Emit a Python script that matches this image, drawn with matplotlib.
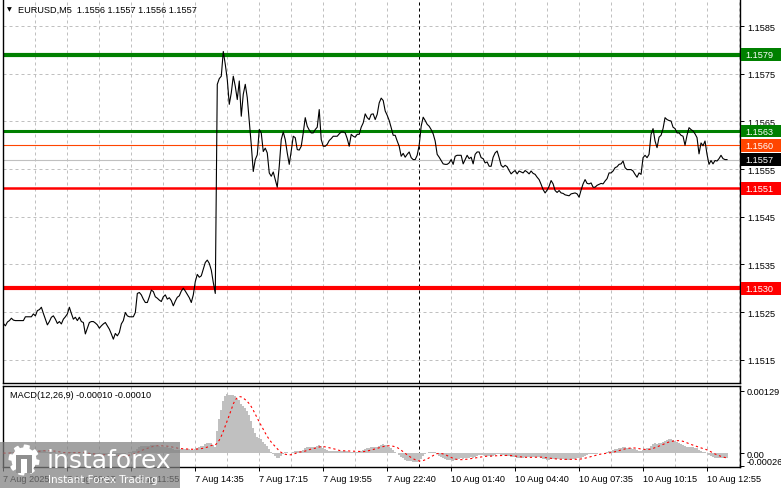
import numpy as np
import pandas as pd
import matplotlib
matplotlib.use("Agg")
import matplotlib.pyplot as plt
from matplotlib.patches import Rectangle, Polygon

plt.rcParams["font.family"] = ["Liberation Sans", "DejaVu Sans"]

# EURUSD M5 closes, one per bar
close = [
    1.15226, 1.15221, 1.15229, 1.15232, 1.15237, 1.15233, 1.15232, 1.15232, 1.15232, 1.15232,
    1.15232, 1.15240, 1.15240, 1.15240, 1.15240, 1.15246, 1.15242, 1.15253, 1.15255, 1.15260,
    1.15247, 1.15235, 1.15223, 1.15230, 1.15239, 1.15242, 1.15235, 1.15226, 1.15230, 1.15225,
    1.15235, 1.15240, 1.15246, 1.15260, 1.15247, 1.15235, 1.15239, 1.15232, 1.15239, 1.15230,
    1.15228, 1.15204, 1.15216, 1.15228, 1.15230, 1.15230, 1.15227, 1.15223, 1.15216, 1.15221,
    1.15225, 1.15228, 1.15221, 1.15214, 1.15204, 1.15193, 1.15205, 1.15200, 1.15207, 1.15225,
    1.15232, 1.15249, 1.15242, 1.15240, 1.15240, 1.15240, 1.15249, 1.15289, 1.15291, 1.15286,
    1.15277, 1.15270, 1.15270, 1.15282, 1.15296, 1.15293, 1.15282, 1.15279, 1.15275, 1.15272,
    1.15282, 1.15286, 1.15277, 1.15280, 1.15274, 1.15263, 1.15273, 1.15281, 1.15284, 1.15294,
    1.15300, 1.15294, 1.15287, 1.15280, 1.15270, 1.15286, 1.15314, 1.15329, 1.15323, 1.15326,
    1.15340, 1.15354, 1.15359, 1.15352, 1.15338, 1.15312, 1.15289, 1.15728, 1.15740, 1.15745,
    1.15797, 1.15770, 1.15738, 1.15686, 1.15710, 1.15745, 1.15724, 1.15696, 1.15735, 1.15661,
    1.15707, 1.15728, 1.15700, 1.15651, 1.15601, 1.15545, 1.15570, 1.15580, 1.15633, 1.15626,
    1.15587, 1.15594, 1.15584, 1.15542, 1.15535, 1.15544, 1.15528, 1.15512, 1.15556, 1.15612,
    1.15628, 1.15612, 1.15584, 1.15560, 1.15588, 1.15619, 1.15616, 1.15591, 1.15590, 1.15598,
    1.15626, 1.15658, 1.15640, 1.15632, 1.15626, 1.15626, 1.15633, 1.15638, 1.15675, 1.15612,
    1.15598, 1.15598, 1.15602, 1.15610, 1.15614, 1.15619, 1.15619, 1.15619, 1.15624, 1.15628,
    1.15628, 1.15626, 1.15614, 1.15598, 1.15623, 1.15619, 1.15617, 1.15623, 1.15623, 1.15638,
    1.15647, 1.15666, 1.15658, 1.15654, 1.15665, 1.15666, 1.15654, 1.15665, 1.15689, 1.15699,
    1.15694, 1.15672, 1.15663, 1.15652, 1.15637, 1.15621, 1.15621, 1.15609, 1.15598, 1.15577,
    1.15583, 1.15575, 1.15581, 1.15586, 1.15574, 1.15570, 1.15570, 1.15579, 1.15600, 1.15640,
    1.15659, 1.15652, 1.15644, 1.15640, 1.15633, 1.15624, 1.15609, 1.15581, 1.15575, 1.15568,
    1.15561, 1.15560, 1.15560, 1.15563, 1.15570, 1.15560, 1.15577, 1.15579, 1.15579, 1.15579,
    1.15561, 1.15570, 1.15579, 1.15572, 1.15575, 1.15561, 1.15581, 1.15586, 1.15586, 1.15574,
    1.15572, 1.15563, 1.15565, 1.15556, 1.15556, 1.15575, 1.15584, 1.15588, 1.15574, 1.15558,
    1.15554, 1.15558, 1.15555, 1.15547, 1.15540, 1.15544, 1.15547, 1.15540, 1.15546, 1.15544,
    1.15542, 1.15547, 1.15544, 1.15540, 1.15546, 1.15541, 1.15539, 1.15533, 1.15528, 1.15518,
    1.15507, 1.15500, 1.15506, 1.15514, 1.15526, 1.15519, 1.15505, 1.15501, 1.15505, 1.15500,
    1.15499, 1.15496, 1.15495, 1.15494, 1.15498, 1.15499, 1.15500, 1.15498, 1.15491, 1.15506,
    1.15519, 1.15528, 1.15520, 1.15519, 1.15521, 1.15512, 1.15512, 1.15516, 1.15518, 1.15520,
    1.15519, 1.15525, 1.15530, 1.15542, 1.15542, 1.15546, 1.15553, 1.15555, 1.15560, 1.15561,
    1.15567, 1.15553, 1.15549, 1.15549, 1.15549, 1.15546, 1.15539, 1.15533, 1.15542, 1.15539,
    1.15574, 1.15579, 1.15574, 1.15581, 1.15623, 1.15635, 1.15609, 1.15595, 1.15617, 1.15621,
    1.15635, 1.15658, 1.15654, 1.15652, 1.15651, 1.15638, 1.15635, 1.15626, 1.15626, 1.15621,
    1.15619, 1.15600, 1.15621, 1.15637, 1.15633, 1.15630, 1.15624, 1.15616, 1.15582, 1.15605,
    1.15599, 1.15609, 1.15581, 1.15560, 1.15568, 1.15561, 1.15568, 1.15567, 1.15572, 1.15579,
    1.15572, 1.15570, 1.15570,
]

price_ticks = [1.1585, 1.1575, 1.1565, 1.1555, 1.1545, 1.1535, 1.1525, 1.1515]

levels = [1.1579, 1.1563, 1.1560, 1.1557, 1.1551, 1.1530]
level_colors = ["#008000", "#008000", "#FF4500", "#C0C0C0", "#FF0000", "#FF0000"]
level_widths = [3.0, 2.2, 0.8, 0.8, 1.8, 3.0]
box_colors = ["#008000", "#008000", "#FF4500", "#000000", "#FF0000", "#FF0000"]

time_labels = ["7 Aug 2025", "7 Aug 09:15", "7 Aug 11:55", "7 Aug 14:35", "7 Aug 17:15",
               "7 Aug 19:55", "7 Aug 22:40", "10 Aug 01:40", "10 Aug 04:40",
               "10 Aug 07:35", "10 Aug 10:15", "10 Aug 12:55"]
time_pos = [0, 32, 64, 96, 128, 160, 192, 224, 256, 288, 320, 352]
separator_bar = 208

macd_ticks = [0.00129, 0.0, -0.00026]
macd_tick_labels = ["0.00129", "0.00", "-0.00026"]

# MACD(12,26,9) as the terminal computes it
s = pd.Series(close)
macd = s.ewm(span=12, adjust=False).mean() - s.ewm(span=26, adjust=False).mean()
signal = macd.rolling(9, min_periods=1).mean()

FS = 6.6
x = np.arange(len(close))
W, H = 781, 489
fig = plt.figure(figsize=(W / 100, H / 100), dpi=100)
fig.patch.set_facecolor("white")

ax = fig.add_axes([3 / W, 1 - 384 / H, 737 / W, 383 / H])
ax2 = fig.add_axes([3 / W, 1 - 468 / H, 737 / W, 81 / H])

xmin, xmax = -0.2, 368.5
grid_x = np.arange(16, 369, 16)
grid_kw = dict(color="#C0C0C0", lw=0.72, linestyle=(0, (3, 3)), zorder=0)

# ---- price panel
for gx in grid_x:
    ax.axvline(gx, **grid_kw)
for gy in price_ticks:
    ax.axhline(gy, **grid_kw)
ax.axvline(separator_bar, color="black", lw=0.72, linestyle=(0, (3, 3)), zorder=1)

for lv, c, lw in zip(levels, level_colors, level_widths):
    ax.axhline(lv, color=c, lw=lw, zorder=2)

ax.plot(x, close, color="black", lw=0.8, zorder=3)

ax.set_xlim(xmin, xmax)
ax.set_ylim(1.15101, 1.15905)
ax.set_xticks([])
ax.yaxis.tick_right()
ax.set_yticks(price_ticks)
ax.set_yticklabels(["%.4f" % t for t in price_ticks])
ax.tick_params(axis="y", direction="out", length=3, width=0.7, pad=2, labelsize=FS)
ax.spines["top"].set_visible(False)
for sp in ["left", "right", "bottom"]:
    ax.spines[sp].set_linewidth(1.0)

box_h = 13 / 47670
for lv, c in zip(levels, box_colors):
    ax.add_patch(Rectangle((1.0015, lv - box_h / 2), 0.06, box_h,
                           transform=ax.get_yaxis_transform(), clip_on=False,
                           facecolor=c, edgecolor="none", zorder=5))
    ax.text(1.0075, lv, "%.4f" % lv, transform=ax.get_yaxis_transform(),
            color="white", fontsize=FS, va="center", ha="left", zorder=6,
            clip_on=False)

# ---- MACD panel
for gx in grid_x:
    ax2.axvline(gx, **grid_kw)
ax2.axvline(separator_bar, color="black", lw=0.72, linestyle=(0, (3, 3)), zorder=1)
ax2.bar(x, macd, width=1.0, color="#C0C0C0", linewidth=0, zorder=2)
ax2.plot(x, signal, color="red", lw=0.8, linestyle=(0, (2, 2.5)), zorder=3)

ax2.set_xlim(xmin, xmax)
ax2.set_ylim(-0.00029, 0.00139)
ax2.yaxis.tick_right()
ax2.set_yticks(macd_ticks)
ax2.set_yticklabels(macd_tick_labels)
ax2.tick_params(axis="y", direction="out", length=3, width=0.7, pad=1.5, labelsize=FS)
ax2.get_yticklabels()[2].set_va("bottom")
ax2.set_xticks(time_pos)
ax2.set_xticklabels(time_labels, ha="left")
ax2.tick_params(axis="x", direction="out", length=3, width=0.7, pad=2, labelsize=FS)
for sp in ax2.spines.values():
    sp.set_linewidth(1.0)

ax2.text(7 / 737, 1 - 8 / 81, "MACD(12,26,9) -0.00010 -0.00010", transform=ax2.transAxes,
         fontsize=FS, va="center", ha="left")

# ---- header
fig.text(7 / W, 1 - 10 / H, "\u25BC", fontsize=4.5, va="center", ha="left",
         family="DejaVu Sans")
fig.text(18 / W, 1 - 10 / H, "EURUSD,M5  1.1556 1.1557 1.1556 1.1557",
         fontsize=FS, va="center", ha="left")

# ---- watermark
fig.add_artist(Rectangle((0, 0), 180 / W, 46 / H, transform=fig.transFigure,
                         facecolor="#7f7f7f", edgecolor="none", alpha=0.72, zorder=10))
cx, cy = 24, 461
ang = np.linspace(0, 2 * np.pi, 97)
rad = np.where((np.floor(ang / (2 * np.pi) * 32) % 4) < 2, 15.5, 12.5)
gear = np.column_stack([(cx + rad * np.cos(ang)) / W, 1 - (cy + rad * np.sin(ang)) / H])
fig.add_artist(Polygon(gear, closed=True, transform=fig.transFigure,
                       facecolor="white", edgecolor="none", zorder=11))
fig.add_artist(Polygon([[(cx - 8) / W, 1 - (cy - 5) / H], [(cx + 8) / W, 1 - (cy - 5) / H],
                        [(cx + 8) / W, 1 - (cy + 13) / H], [(cx - 8) / W, 1 - (cy + 13) / H]],
                       closed=True, transform=fig.transFigure,
                       facecolor="#8f8f8f", edgecolor="none", zorder=12))
fig.add_artist(Polygon([[(cx - 3) / W, 1 - (cy - 1) / H], [(cx + 3) / W, 1 - (cy - 1) / H],
                        [(cx + 3) / W, 1 - (cy + 13) / H], [(cx - 3) / W, 1 - (cy + 13) / H]],
                       closed=True, transform=fig.transFigure,
                       facecolor="white", edgecolor="none", zorder=13))
fig.text(47 / W, 1 - 461 / H, "instaforex", fontsize=18, color="white",
         va="center", ha="left", zorder=14, family="DejaVu Sans")
fig.text(48 / W, 1 - 480 / H, "Instant Forex Trading", fontsize=7.5, color="white",
         va="center", ha="left", zorder=14, family="DejaVu Sans")

fig.savefig("out.png", dpi=100)
